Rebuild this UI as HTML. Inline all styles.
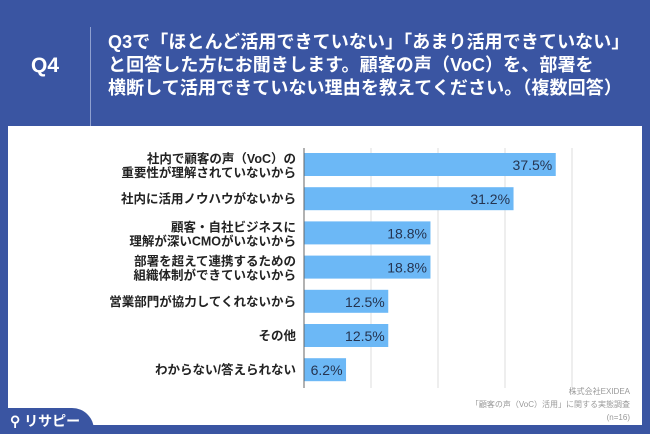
<!DOCTYPE html>
<html><head><meta charset="utf-8"><style>
body{margin:0;width:650px;height:434px;background:#3a55a2;position:relative;overflow:hidden;font-family:"Liberation Sans","Noto Sans CJK JP",sans-serif}
#q{position:absolute;left:31px;top:54px;color:#fff;font-size:21px;font-weight:bold}
#div{position:absolute;left:90px;top:27px;width:1px;height:105px;background:#8fa0d0}
#title{position:absolute;left:108px;top:31px;color:#fff;font-size:18px;line-height:23px;font-weight:bold;white-space:nowrap;letter-spacing:0.1px}
#panel{position:absolute;left:8px;top:126px;width:634px;height:299px;background:#fff}
#src{position:absolute;right:20px;top:385px;text-align:right;font-size:8px;color:#999;line-height:13px}
#logo{position:absolute;left:0;top:408px;width:94px;height:26px;background:#3a55a2;border-top-right-radius:22px;color:#fff;font-size:14px;font-weight:bold}
</style></head><body>
<div id="q">Q4</div>
<div id="div"></div>
<div id="title">Q3で「ほとんど活用できていない」「あまり活用できていない」<br>と回答した方にお聞きします。顧客の声（VoC）を、部署を<br>横断して活用できていない理由を教えてください。（複数回答）</div>
<div id="panel"></div>
<svg id="chart" width="650" height="434" style="position:absolute;left:0;top:0"></svg>
<div id="src">株式会社EXIDEA<br>「顧客の声（VoC）活用」に関する実態調査<br>(n=16)</div>
<div id="logo"><span style="position:absolute;left:10px;top:3px">⚲ リサピー</span></div>
<script>
const categories=[["社内で顧客の声（VoC）の","重要性が理解されていないから"],["社内に活用ノウハウがないから"],["顧客・自社ビジネスに","理解が深いCMOがいないから"],["部署を超えて連携するための","組織体制ができていないから"],["営業部門が協力してくれないから"],["その他"],["わからない/答えられない"]];
const values=[37.5,31.2,18.8,18.8,12.5,12.5,6.2];
const gridTicks=[0,10,20,30,40];
const ns="http://www.w3.org/2000/svg",svg=document.getElementById('chart');
const x=v=>304+v*6.7, y=i=>153+i*34.2;
function mk(t,a){const e=document.createElementNS(ns,t);for(const k in a)e.setAttribute(k,a[k]);svg.appendChild(e);return e;}
gridTicks.forEach(t=>{const l=mk('line',{x1:x(t),x2:x(t),y1:148,y2:388,stroke:t?'#ddd':'#666','stroke-width':1});

});
values.forEach((v,i)=>{
const r=mk('rect',{x:x(0)+0.5,y:y(i),width:x(v)-x(0),height:23,fill:'#6cb8f6'});


const t=mk('text',{x:x(v)-3,y:y(i)+17,'text-anchor':'end','font-size':14,fill:'#253450'});t.textContent=v.toFixed(1)+'%';


const c=categories[i];
c.forEach((s,j)=>{const tt=mk('text',{x:296,y:y(i)+(c.length==1?16:10+j*14),'text-anchor':'end','font-size':12.5,'font-weight':'bold',fill:'#222'});tt.textContent=s;

});
});
</script>
</body></html>
